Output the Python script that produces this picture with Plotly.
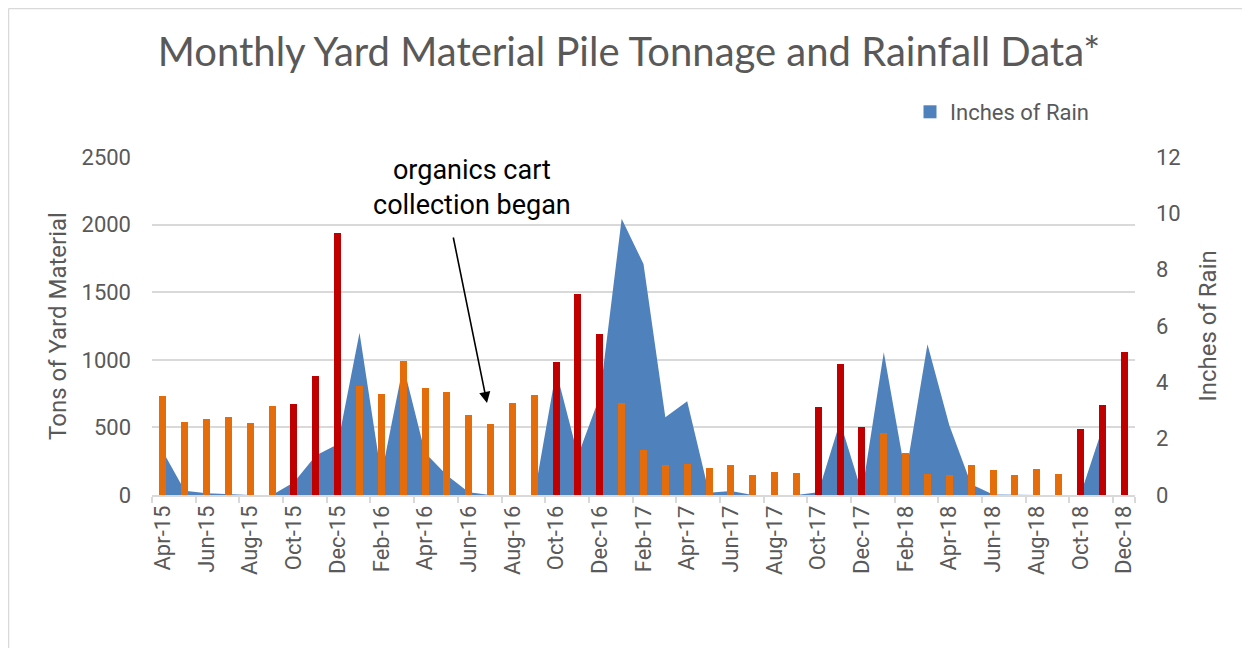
import plotly.graph_objects as go

months = ["Apr-15","May-15","Jun-15","Jul-15","Aug-15","Sep-15","Oct-15","Nov-15","Dec-15",
          "Jan-16","Feb-16","Mar-16","Apr-16","May-16","Jun-16","Jul-16","Aug-16","Sep-16","Oct-16","Nov-16","Dec-16",
          "Jan-17","Feb-17","Mar-17","Apr-17","May-17","Jun-17","Jul-17","Aug-17","Sep-17","Oct-17","Nov-17","Dec-17",
          "Jan-18","Feb-18","Mar-18","Apr-18","May-18","Jun-18","Jul-18","Aug-18","Sep-18","Oct-18","Nov-18","Dec-18"]

tons = [731, 539, 559, 574, 534, 660, 672, 879, 1936,
        808, 744, 990, 791, 763, 594, 525, 677, 739, 985, 1485, 1190,
        677, 333, 224, 232, 197, 219, 148, 167, 160, 650, 968, 502,
        458, 310, 158, 148, 222, 187, 148, 195, 155, 488, 665, 1057]

rain = [1.54, 0.15, 0.06, 0.02, 0.0, 0.0, 0.45, 1.4, 1.8,
        5.76, 0.7, 4.6, 1.5, 0.7, 0.1, 0.0, 0.0, 0.0, 4.4, 1.4, 3.5,
        9.81, 8.2, 2.76, 3.33, 0.08, 0.14, 0.0, 0.0, 0.0, 0.1, 2.6, 0.08,
        5.07, 0.7, 5.35, 2.48, 0.38, 0.02, 0.0, 0.0, 0.0, 0.0, 2.35, None]

rainy_months = ("Oct", "Nov", "Dec")
ORANGE = "#E46C0A"
RED = "#C00000"
BLUE = "#4F81BD"
GRAY = "#595959"
GRID = "#D9D9D9"
FONT = "Roboto, sans-serif"
TFONT = "Lato, Roboto, sans-serif"

bar_colors = [RED if m[:3] in rainy_months else ORANGE for m in months]

# plot area in screen pixels (page has an 8px body margin)
PX0, PX1, PY0, PY1 = 152, 1135, 157, 495
W, H = 1242, 640
def px(x):
    return (x - PX0) / (PX1 - PX0)
def py(y):
    return (PY1 - y) / (PY1 - PY0)

fig = go.Figure()

fig.add_trace(go.Scatter(
    x=months, y=rain, mode="lines", fill="tozeroy",
    line=dict(width=0, color=BLUE), fillcolor=BLUE,
    yaxis="y", showlegend=False, name="Inches of Rain", hoverinfo="x+y"))

fig.add_trace(go.Bar(
    x=months, y=tons, marker=dict(color=bar_colors, line=dict(width=0)),
    width=0.32, yaxis="y2", showlegend=False, name="Tons of Yard Material"))

# legend entry
fig.add_trace(go.Scatter(
    x=[None], y=[None], mode="markers", name="Inches of Rain",
    marker=dict(symbol="square", size=13, color=BLUE), yaxis="y"))

fig.update_layout(
    width=W, height=H,
    margin=dict(l=PX0 - 8, r=W - (PX1 - 8), t=PY0 - 8, b=H - (PY1 - 8)),
    paper_bgcolor="white", plot_bgcolor="white",
    font=dict(family=FONT, color=GRAY, size=22),
    title=dict(text="Monthly Yard Material Pile Tonnage and Rainfall Data*",
               x=(629 - 8) / W, xanchor="center", xref="container",
               y=1 - (52 - 8) / H, yanchor="middle", yref="container",
               font=dict(size=40, color=GRAY, family=TFONT)),
    bargap=0,
    xaxis=dict(type="category", categoryorder="array", categoryarray=months,
               tickmode="array", tickvals=months[::2], ticktext=months[::2],
               tickangle=-90, tickson="boundaries",
               ticks="outside", ticklen=6, tickcolor=GRID, tickwidth=1.5,
               showline=True, linecolor=GRID, linewidth=1.5,
               showgrid=False, tickfont=dict(size=22, color=GRAY),
               range=[-0.5, len(months) - 0.5]),
    yaxis=dict(side="right", range=[0, 12], tickvals=[0, 2, 4, 6, 8, 10, 12],
               showgrid=False, zeroline=False, showline=False,
               tickfont=dict(size=22, color=GRAY), ticklabelstandoff=20,
               title=dict(text="Inches of Rain", font=dict(size=24, color=GRAY), standoff=19)),
    yaxis2=dict(side="left", overlaying="y", range=[0, 2500],
                tickvals=[0, 500, 1000, 1500, 2000, 2500],
                showgrid=True, gridcolor=GRID, gridwidth=1.5, zeroline=False, showline=False,
                tickfont=dict(size=22, color=GRAY), ticklabelstandoff=20,
                title=dict(text="Tons of Yard Material", font=dict(size=24, color=GRAY), standoff=8)),
    legend=dict(x=px(910), xanchor="left", y=py(112), yanchor="middle",
                font=dict(size=22, color=GRAY), bgcolor="rgba(0,0,0,0)"),
    annotations=[
        dict(text="organics cart<br>collection began", xref="paper", yref="paper",
             x=px(472), y=py(187), xanchor="center", yanchor="middle", showarrow=False,
             font=dict(size=27, color="black", family=FONT), align="center"),
        dict(text="", xref="paper", yref="paper", x=px(487), y=py(403),
             ax=453 - 487, ay=236 - 403, showarrow=True, arrowhead=2, arrowsize=1.4,
             arrowwidth=1.6, arrowcolor="black"),
    ],
    shapes=[
        dict(type="line", xref="paper", yref="paper",
             x0=px(8.5), x1=px(8.5), y0=py(8.5), y1=py(700),
             line=dict(color=GRID, width=1.5), layer="below"),
        dict(type="line", xref="paper", yref="paper",
             x0=px(8.5), x1=px(1300), y0=py(8.5), y1=py(8.5),
             line=dict(color=GRID, width=1.5), layer="below"),
    ],
)

fig.write_html("out.html")
